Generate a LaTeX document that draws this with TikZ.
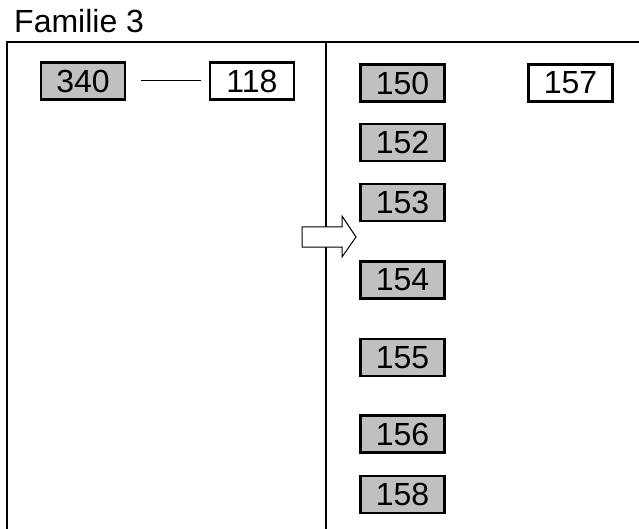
\documentclass[tikz,border=0pt]{standalone}
\usepackage{fontspec}
\setmainfont{Liberation Sans}
\begin{document}
\begin{tikzpicture}[x=1pt,y=-1pt,
  box/.style={draw, line width=2.7pt, minimum width=84pt, minimum height=37pt, inner sep=0pt, outer sep=0pt, font=\fontsize{32}{36}\selectfont},
  grey/.style={box, fill=boxgray},
  white/.style={box, fill=white},
  frame/.style={line width=2.4pt}
]
\definecolor{boxgray}{HTML}{C0C0C0}
\useasboundingbox (0,0) rectangle (639,529);
\node[anchor=base west, inner sep=0pt, font=\fontsize{32}{36}\selectfont] (title) at (14,33) {Familie 3};
% frame
\coordinate (tl) at (7,42);
\coordinate (tr) at (639,42);
\coordinate (bl) at (7,529);
\coordinate (mt) at (326,42);
\coordinate (mb) at (326,529);
\draw[frame] (bl) -- (tl) -- (tr);
\draw[frame] (mt) -- (mb);
% left side
\node[grey] (n340) at (83,81) {340};
\node[white] (n118) at (252,81) {118};
\draw[line width=1pt, shorten <=16pt, shorten >=9pt] (n340.east) -- (n118.west);
% right side
\node[grey] (n150) at (402.5,83) {150};
\node[white] (n157) at (570.5,83) {157};
\node[grey] (n152) at (402.5,142.5) {152};
\node[grey] (n153) at (402.5,202.5) {153};
\node[grey] (n154) at (402.5,280) {154};
\node[grey] (n155) at (402.5,357.5) {155};
\node[grey] (n156) at (402.5,434) {156};
\node[grey] (n158) at (402.5,494.5) {158};
% block arrow
\draw[fill=white, line width=1pt, line join=miter]
  (302,227) -- (342,227) -- (342,216) -- (356,237) -- (342,257) -- (342,247) -- (302,247) -- cycle;
\end{tikzpicture}
\end{document}
